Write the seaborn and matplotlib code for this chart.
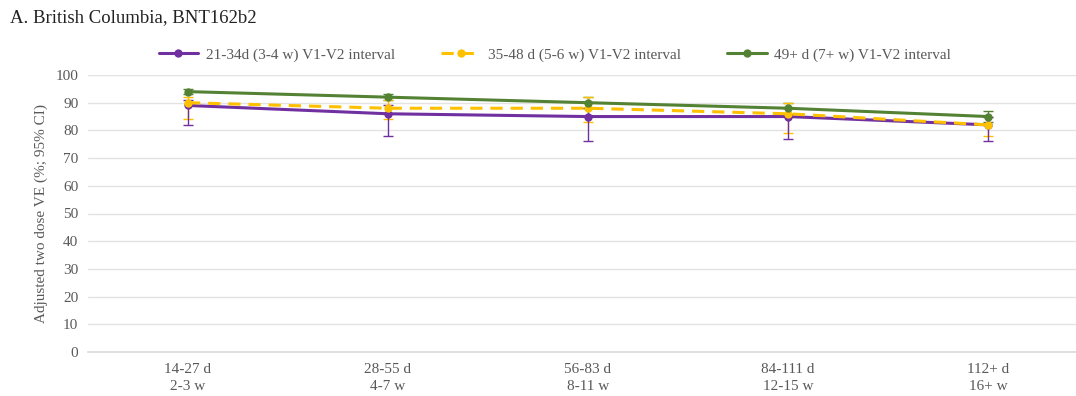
import matplotlib
matplotlib.use("Agg")
import matplotlib.pyplot as plt
import seaborn as sns
import numpy as np
import pandas as pd

# Time since second dose (x categories)
periods = ["14-27 d\n2-3 w", "28-55 d\n4-7 w", "56-83 d\n8-11 w", "84-111 d\n12-15 w", "112+ d\n16+ w"]

# Dose-interval groups
groups = ["21-34d (3-4 w) V1-V2 interval",
          "35-48 d (5-6 w) V1-V2 interval",
          "49+ d (7+ w) V1-V2 interval"]

# Adjusted VE estimates and 95% CI per group
ve_21_34 = [89, 86, 85, 85, 82]
lo_21_34 = [82, 78, 76, 77, 76]
hi_21_34 = [91, 89, 88, 88, 85]

ve_35_48 = [90, 88, 88, 86, 82]
lo_35_48 = [84, 84, 83, 79, 78]
hi_35_48 = [92, 91, 92, 90, 85]

ve_49p = [94, 92, 90, 88, 85]
lo_49p = [93, 91, 88, 86, 83]
hi_49p = [95, 93, 92, 90, 87]

colors = {groups[0]: "#7030A0", groups[1]: "#FFC000", groups[2]: "#548235"}
dashes = {groups[0]: "", groups[1]: (4, 2.6), groups[2]: ""}

rows = []
for g, ve, lo, hi in zip(groups,
                         [ve_21_34, ve_35_48, ve_49p],
                         [lo_21_34, lo_35_48, lo_49p],
                         [hi_21_34, hi_35_48, hi_49p]):
    for i, p in enumerate(periods):
        rows.append({"pos": i, "period": p, "group": g, "ve": ve[i], "lo": lo[i], "hi": hi[i]})
df = pd.DataFrame(rows)

sns.set_theme(style="white")
plt.rcParams["font.family"] = ["Liberation Serif", "DejaVu Serif"]

fig = plt.figure(figsize=(10.76, 3.96), dpi=100)
ax = fig.add_axes([88 / 1076, 1 - 352 / 396, (1076 - 88) / 1076, (352 - 75) / 396])

# Confidence intervals (drawn under the lines, last group first)
for g in groups[::-1]:
    sub = df[df.group == g]
    ax.errorbar(sub.pos, sub.ve, yerr=[sub.ve - sub.lo, sub.hi - sub.ve],
                fmt="none", ecolor=colors[g], elinewidth=1.0, capsize=3.5, capthick=1.0, zorder=2)

sns.lineplot(data=df, x="pos", y="ve", hue="group", style="group",
             hue_order=groups, style_order=groups, palette=colors, dashes=dashes,
             markers={g: "o" for g in groups}, markersize=6, markeredgewidth=0,
             linewidth=2.2, ax=ax, zorder=3)

ax.set_xlim(-0.5, 4.44)
ax.set_ylim(0, 100)
ax.set_yticks(np.arange(0, 101, 10))
ax.set_xticks(range(len(periods)))
ax.set_xticklabels(periods, fontsize=11, color="#595959", linespacing=1.4)
ax.tick_params(axis="y", labelsize=11, labelcolor="#595959", length=0, pad=7)
ax.tick_params(axis="x", length=0, pad=8)
ax.yaxis.grid(True, color="#E3E3E3", linewidth=1.0)
ax.set_axisbelow(True)
for s in ["top", "right", "left"]:
    ax.spines[s].set_visible(False)
ax.spines["bottom"].set_color("#DADADA")
ax.spines["bottom"].set_linewidth(1.2)

ax.set_xlabel("")
ax.set_ylabel("Adjusted two dose VE (%; 95% CI)", fontsize=11, color="#595959")
ax.yaxis.set_label_coords((48 - 88) / 988, 0.5)

handles, labels = ax.get_legend_handles_labels()
ax.legend(handles, labels, loc="center", bbox_to_anchor=((555 - 88) / 988, 1 + 20 / 277),
          ncol=3, frameon=False, fontsize=11, handlelength=2.6, columnspacing=3.0,
          handletextpad=0.5, labelcolor="#595959")

fig.text(10 / 1076, 1 - 18 / 396, "A. British Columbia, BNT162b2", fontsize=13.5,
         color="#222222", va="center", ha="left")

fig.savefig("out.png", dpi=100, facecolor="white")
